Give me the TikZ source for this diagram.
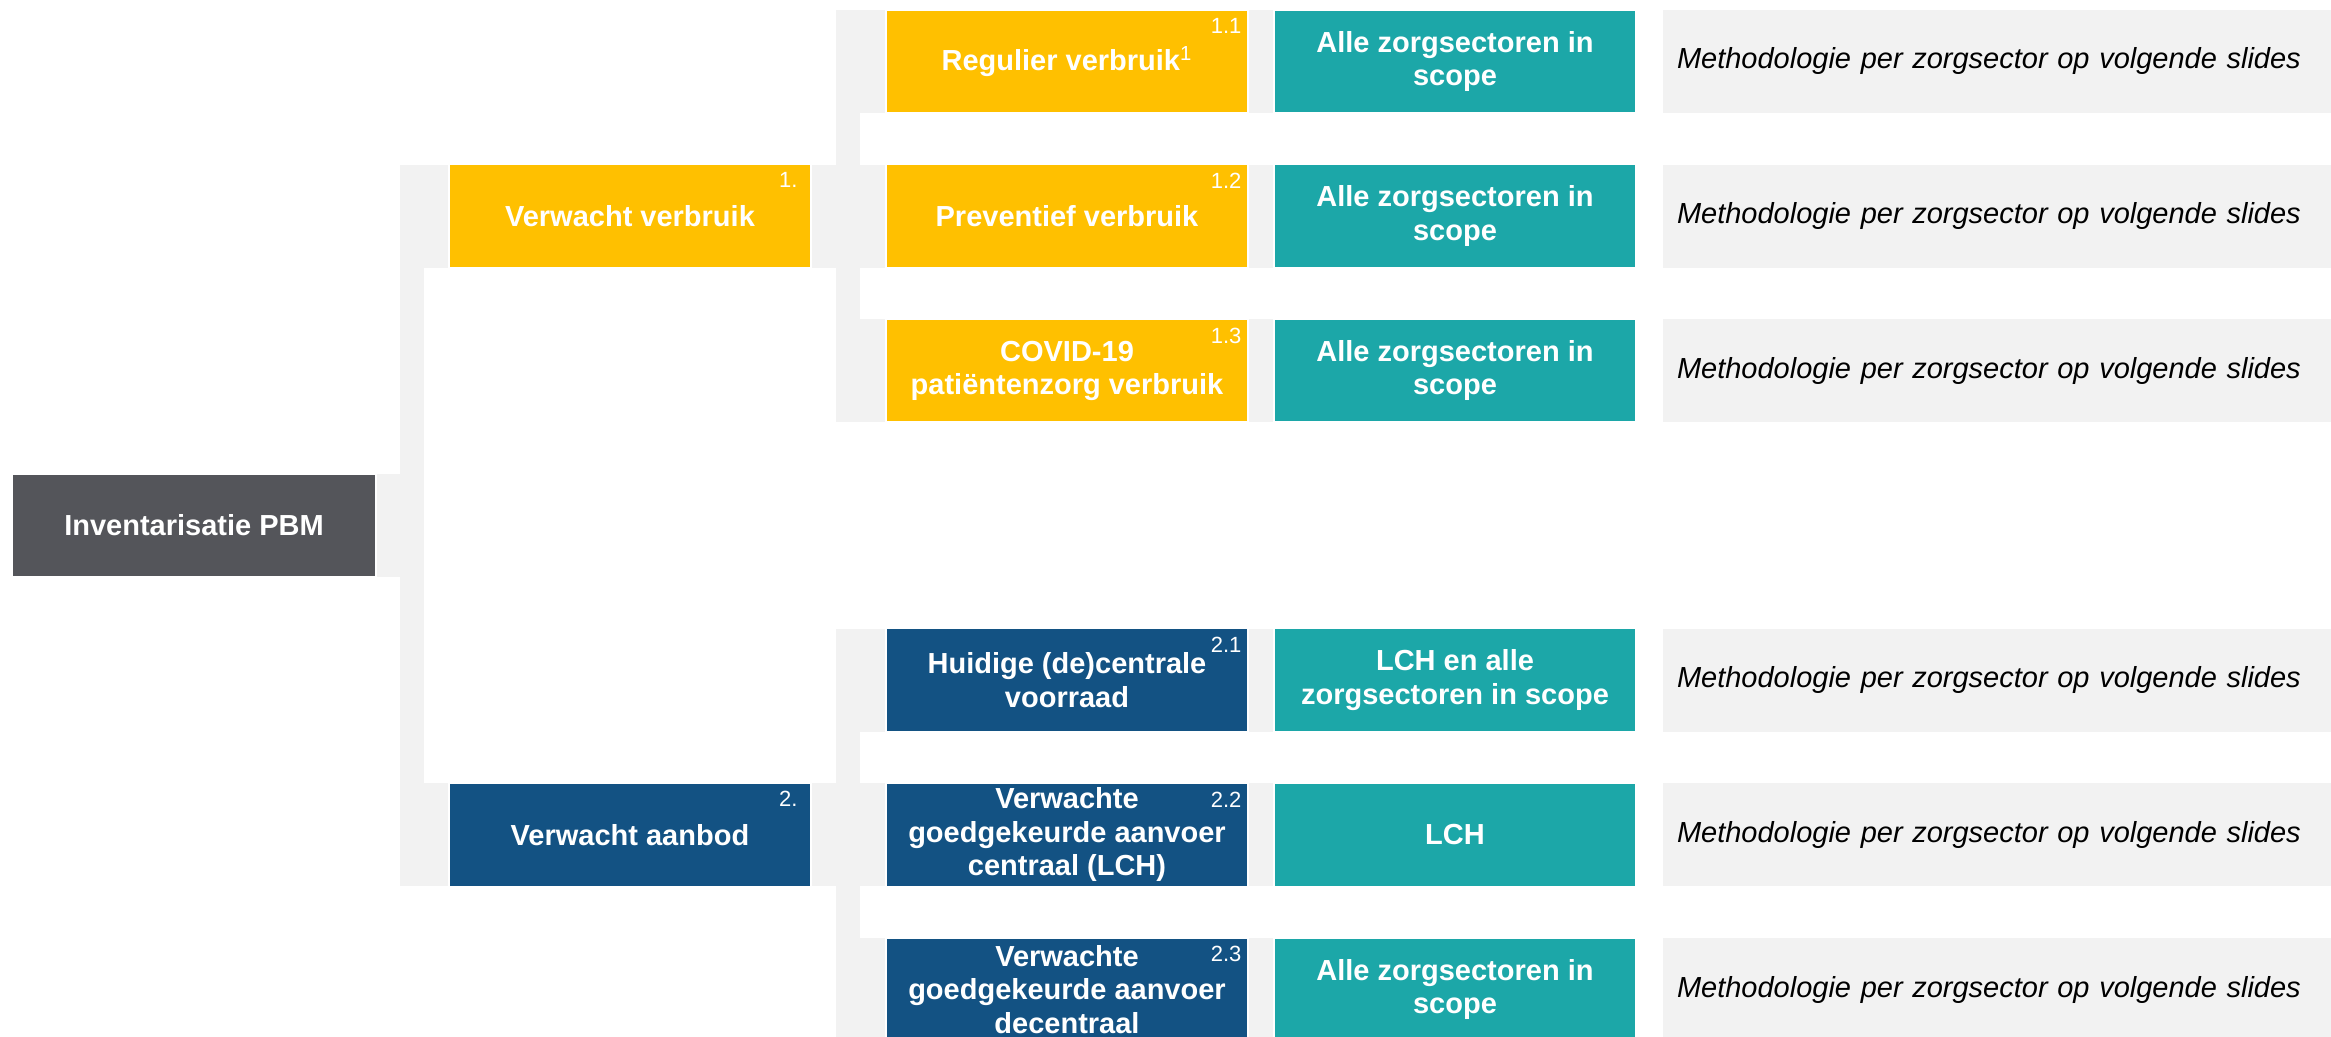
\documentclass[tikz,border=0pt]{standalone}
\usepackage{fontspec}
\setmainfont{Liberation Sans}
\usetikzlibrary{backgrounds}
\definecolor{bandgray}{HTML}{F2F2F2}
\definecolor{rootgray}{HTML}{54555A}
\definecolor{pyellow}{HTML}{FFC000}
\definecolor{pblue}{HTML}{135283}
\definecolor{pteal}{HTML}{1CA7A8}
\tikzset{
  base/.style={rectangle, inner sep=0pt, minimum height=51.5pt, draw=white, line width=0.8pt,
    text=white, align=center, font=\fontsize{14.5}{16.7}\selectfont\bfseries},
  rootbox/.style={base, fill=rootgray, minimum width=182pt},
  lvlbox/.style={base, minimum width=181pt},
  yel/.style={lvlbox, fill=pyellow},
  blu/.style={lvlbox, fill=pblue},
  scopebox/.style={lvlbox, fill=pteal},
  methbox/.style={rectangle, fill=bandgray, minimum height=51.5pt, text width=320pt,
    inner xsep=7pt, inner ysep=0pt, align=left, font=\fontsize{14.5}{16.7}\selectfont\itshape},
  barnode/.style={rectangle, fill=bandgray, inner sep=0pt, minimum width=12pt},
  band/.style={draw=bandgray, line width=51.5pt},
  num/.style={inner sep=0pt, text=white, font=\fontsize{11}{13}\selectfont, anchor=north east},
}
\begin{document}
\begin{tikzpicture}[x=0.5pt, y=-0.5pt]
\useasboundingbox (0,0) rectangle (2331,1037);

% bars
\node[barnode, minimum height=360.8pt] (bar1) at (412,525.5) {};
\node[barnode, minimum height=206pt] (bar2a) at (848,216.05) {};
\node[barnode, minimum height=206.1pt] (bar2b) at (848,834.9) {};

% root
\node[rootbox] (root) at (194,525.5) {Inventarisatie PBM};

% level 1
\node[yel] (va) at (630,216.2) {Verwacht verbruik};
\node[blu] (vb) at (630,834.8) {Verwacht aanbod};
\node[num] (nva) at ([xshift=-7pt,yshift=-4pt]va.north east) {1.};
\node[num] (nvb) at ([xshift=-7pt,yshift=-4pt]vb.north east) {2.};

% level 2
\node[yel] (a1) at (1067,61.5) {Regulier verbruik\textsuperscript{\mdseries 1}};
\node[yel] (a2) at (1067,216.2) {Preventief verbruik};
\node[yel] (a3) at (1067,370.8) {COVID-19\\pati\"entenzorg verbruik};
\node[blu] (b1) at (1067,680.2) {Huidige (de)centrale\\voorraad};
\node[blu] (b2) at (1067,834.8) {Verwachte\\goedgekeurde aanvoer\\centraal (LCH)};
\node[blu] (b3) at (1067,989.5) {Verwachte\\goedgekeurde aanvoer\\decentraal};
\node[num] (na1) at ([xshift=-3.5pt,yshift=-4.5pt]a1.north east) {1.1};
\node[num] (na2) at ([xshift=-3.5pt,yshift=-4.5pt]a2.north east) {1.2};
\node[num] (na3) at ([xshift=-3.5pt,yshift=-4.5pt]a3.north east) {1.3};
\node[num] (nb1) at ([xshift=-3.5pt,yshift=-4.5pt]b1.north east) {2.1};
\node[num] (nb2) at ([xshift=-3.5pt,yshift=-4.5pt]b2.north east) {2.2};
\node[num] (nb3) at ([xshift=-3.5pt,yshift=-4.5pt]b3.north east) {2.3};

% scope
\node[scopebox] (s1) at (1455,61.5) {Alle zorgsectoren in\\scope};
\node[scopebox] (s2) at (1455,216.2) {Alle zorgsectoren in\\scope};
\node[scopebox] (s3) at (1455,370.8) {Alle zorgsectoren in\\scope};
\node[scopebox] (s4) at (1455,680.2) {LCH en alle\\zorgsectoren in scope};
\node[scopebox] (s5) at (1455,834.8) {LCH};
\node[scopebox] (s6) at (1455,989.5) {Alle zorgsectoren in\\scope};

% methodology
\foreach \r/\y in {1/61.5, 2/216.2, 3/370.8, 4/680.2, 5/834.8, 6/989.5}
  \node[methbox] (m\r) at (1997,\y) {Methodologie per zorgsector op volgende slides};

% connectors (bands)
\begin{scope}[on background layer]
  \draw[band] (root.east) -- (root.east -| bar1.center);
  \draw[band] (bar1.center |- va.west) -- (va.west);
  \draw[band] (bar1.center |- vb.west) -- (vb.west);
  \draw[band] (va.east) -- (va.east -| bar2a.center);
  \draw[band] (vb.east) -- (vb.east -| bar2b.center);
  \foreach \n in {a1,a2,a3} \draw[band] (bar2a.center |- \n.west) -- (\n.west);
  \foreach \n in {b1,b2,b3} \draw[band] (bar2b.center |- \n.west) -- (\n.west);
  \draw[band] (a1.east) -- (s1.west);
  \draw[band] (a2.east) -- (s2.west);
  \draw[band] (a3.east) -- (s3.west);
  \draw[band] (b1.east) -- (s4.west);
  \draw[band] (b2.east) -- (s5.west);
  \draw[band] (b3.east) -- (s6.west);
\end{scope}
\end{tikzpicture}
\end{document}
